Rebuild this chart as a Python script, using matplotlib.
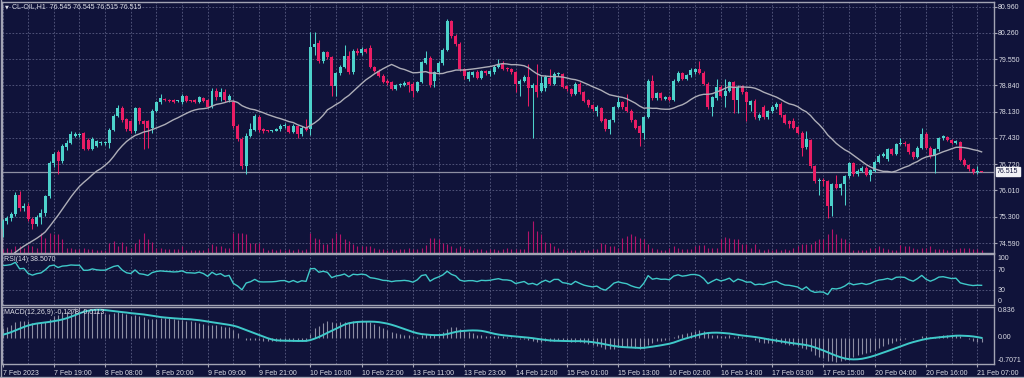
import matplotlib.pyplot as plt
import numpy as np
import pandas as pd
from matplotlib.lines import Line2D

# CL-OIL H1, 7 Feb 06:00 -> 21 Feb 07:00 (230 hourly bars, 12 bars per time label)
opens = [
    74.98, 75.20, 75.26, 75.38, 75.90, 75.53, 75.60, 75.25, 75.12, 75.30, 75.40, 75.85,
    76.75, 77.05, 76.80, 77.18, 77.28, 77.48, 77.50, 77.55, 77.38, 77.14, 77.22, 77.28,
    77.28, 77.28, 77.63, 78.02, 78.24, 77.93, 77.89, 77.60, 78.23, 77.87, 77.87, 77.70,
    78.16, 78.38, 78.47, 78.44, 78.45, 78.42, 78.38, 78.56, 78.44, 78.45, 78.38, 78.50,
    78.45, 78.25, 78.70, 78.52, 78.65, 78.45, 78.40, 77.75, 77.39, 76.67, 77.48, 77.63,
    78.00, 77.66, 77.62, 77.61, 77.62, 77.66, 77.75, 77.75, 77.58, 77.75, 77.52, 77.70,
    77.66, 79.87, 79.98, 79.49, 79.74, 79.60, 78.83, 79.17, 79.33, 79.62, 79.20, 79.77,
    79.70, 79.83, 79.86, 79.33, 79.24, 79.10, 78.97, 78.93, 78.75, 78.84, 78.84, 78.93,
    78.88, 78.70, 78.93, 79.45, 79.59, 78.95, 79.20, 79.45, 79.80, 80.58, 80.18, 79.96,
    79.28, 79.00, 79.12, 79.21, 79.05, 79.22, 79.15, 79.20, 79.33, 79.42, 79.30, 79.29,
    79.20, 78.88, 78.97, 79.07, 78.77, 78.84, 78.70, 78.77, 79.05, 78.88, 79.15, 79.15,
    78.83, 78.74, 78.61, 78.88, 78.65, 78.45, 78.30, 78.14, 78.23, 77.93, 77.66, 77.90,
    78.25, 78.38, 78.25, 78.16, 77.90, 77.75, 77.57, 77.99, 78.95, 78.50, 78.63, 78.48,
    78.52, 78.45, 78.97, 79.17, 79.02, 79.11, 79.20, 79.27, 79.18, 78.88, 78.25, 78.50,
    78.80, 78.56, 78.70, 78.92, 78.45, 78.83, 78.65, 78.30, 78.43, 77.97, 78.26, 77.98,
    78.14, 78.25, 78.34, 78.05, 77.88, 77.87, 77.72, 77.57, 77.18, 77.37, 76.67, 76.26,
    76.30, 76.26, 75.58, 76.18, 76.08, 76.18, 76.39, 76.74, 76.45, 76.53, 76.62, 76.44,
    76.53, 76.78, 76.94, 76.85, 77.12, 77.00, 77.27, 77.30, 77.27, 77.05, 76.91, 77.16,
    77.54, 77.16, 76.93, 77.12, 77.42, 77.46, 77.36, 77.29, 77.31, 76.84, 76.70, 76.58,
    76.50, 76.545,
]
highs = [
    75.25, 75.32, 75.44, 75.96, 76.00, 75.66, 75.66, 75.30, 75.36, 75.50, 75.90, 76.80,
    77.05, 77.10, 77.25, 77.36, 77.60, 77.58, 77.57, 77.58, 77.42, 77.44, 77.36, 77.34,
    77.35, 77.68, 78.06, 78.30, 78.28, 77.96, 77.92, 78.26, 78.26, 77.90, 77.90, 78.20,
    78.42, 78.60, 78.50, 78.48, 78.48, 78.46, 78.60, 78.58, 78.46, 78.48, 78.56, 78.52,
    78.48, 78.78, 78.76, 78.78, 78.75, 78.60, 78.45, 77.80, 77.45, 77.55, 77.84, 78.06,
    78.04, 77.68, 77.65, 77.65, 77.70, 77.80, 77.84, 77.78, 77.80, 77.78, 77.74, 77.93,
    80.28, 80.28, 80.05, 79.78, 79.78, 79.64, 79.20, 79.38, 79.92, 79.78, 79.82, 79.85,
    79.87, 79.86, 79.93, 79.36, 79.28, 79.14, 79.00, 78.96, 78.88, 78.90, 78.96, 78.96,
    78.92, 78.97, 79.50, 79.78, 79.62, 79.24, 79.50, 79.86, 80.62, 80.60, 80.22, 80.00,
    79.32, 79.22, 79.24, 79.26, 79.26, 79.26, 79.26, 79.38, 79.56, 79.50, 79.34, 79.32,
    79.24, 79.02, 79.12, 79.42, 78.90, 79.42, 79.10, 79.12, 79.29, 79.20, 79.20, 79.18,
    78.86, 78.78, 78.92, 78.92, 78.68, 78.48, 78.34, 78.30, 78.26, 77.96, 77.94, 78.28,
    78.52, 78.42, 78.61, 78.20, 77.94, 77.78, 78.02, 79.02, 79.12, 78.67, 78.66, 78.56,
    78.55, 79.00, 79.22, 79.20, 79.15, 79.30, 79.30, 79.49, 79.22, 78.92, 78.56, 79.02,
    78.84, 79.02, 78.96, 78.96, 78.86, 78.86, 78.68, 78.45, 78.47, 78.10, 78.30, 78.18,
    78.30, 78.38, 78.38, 78.08, 77.92, 77.96, 77.76, 77.60, 77.60, 77.40, 76.70, 76.34,
    76.34, 76.30, 76.22, 76.44, 76.22, 76.42, 76.78, 76.78, 76.58, 76.66, 76.66, 76.60,
    76.82, 76.98, 77.04, 77.16, 77.16, 77.30, 77.41, 77.34, 77.30, 77.08, 77.20, 77.70,
    77.58, 77.20, 77.16, 77.46, 77.50, 77.49, 77.39, 77.37, 77.34, 76.88, 76.72, 76.62,
    76.67, 76.545,
]
lows = [
    74.75, 75.12, 75.20, 75.33, 75.45, 75.45, 75.20, 74.98, 75.05, 75.10, 75.33, 75.80,
    76.65, 76.45, 76.75, 77.10, 77.25, 77.44, 77.45, 77.10, 77.10, 77.10, 77.18, 77.24,
    77.24, 77.15, 77.60, 78.00, 77.86, 77.60, 77.55, 77.55, 77.80, 77.12, 77.16, 77.55,
    78.12, 78.35, 78.42, 78.40, 78.36, 78.40, 78.34, 78.40, 78.40, 78.37, 78.36, 78.40,
    78.22, 78.22, 78.45, 78.42, 78.40, 78.40, 77.70, 77.35, 76.60, 76.45, 77.45, 77.60,
    77.58, 77.55, 77.58, 77.58, 77.60, 77.62, 77.70, 77.55, 77.55, 77.43, 77.48, 77.60,
    77.50, 79.66, 79.45, 79.45, 79.55, 78.56, 78.56, 79.12, 79.30, 79.16, 79.16, 79.65,
    79.65, 79.70, 79.30, 79.20, 79.06, 78.90, 78.86, 78.72, 78.72, 78.80, 78.82, 78.65,
    78.52, 78.66, 78.90, 79.42, 78.80, 78.80, 79.15, 79.40, 79.76, 80.12, 79.90, 79.24,
    79.00, 78.96, 79.08, 79.00, 79.00, 79.12, 79.10, 79.15, 79.30, 79.26, 79.22, 79.15,
    78.65, 78.56, 78.92, 78.29, 77.43, 78.52, 78.65, 78.70, 78.84, 78.84, 79.10, 78.78,
    78.70, 78.56, 78.58, 78.60, 78.40, 78.26, 78.15, 78.02, 77.85, 77.62, 77.52, 77.86,
    78.22, 78.20, 78.12, 77.86, 77.66, 77.21, 77.39, 77.95, 78.46, 78.46, 78.46, 78.44,
    78.41, 78.42, 78.94, 78.98, 78.98, 79.08, 79.16, 79.15, 78.84, 78.20, 78.02, 78.46,
    78.52, 78.25, 78.66, 78.11, 78.11, 78.60, 77.89, 78.16, 77.94, 77.90, 77.94, 77.94,
    78.10, 78.20, 78.00, 77.80, 77.70, 77.66, 77.53, 76.93, 77.14, 76.62, 76.20, 75.90,
    76.12, 75.28, 75.31, 76.04, 75.90, 75.62, 76.35, 76.40, 76.40, 76.50, 76.40, 76.26,
    76.50, 76.75, 76.90, 76.80, 76.96, 76.96, 77.24, 77.22, 77.00, 76.86, 76.88, 77.12,
    77.12, 76.88, 76.48, 77.08, 77.38, 77.34, 77.25, 77.25, 76.80, 76.66, 76.54, 76.46,
    76.46, 76.515,
]
closes = [
    75.20, 75.26, 75.38, 75.90, 75.53, 75.60, 75.25, 75.12, 75.30, 75.40, 75.85, 76.75,
    77.00, 76.80, 77.20, 77.30, 77.54, 77.52, 77.53, 77.13, 77.14, 77.40, 77.33, 77.30,
    77.31, 77.64, 78.02, 78.24, 77.90, 77.67, 77.60, 78.23, 77.87, 77.81, 77.69, 78.16,
    78.38, 78.49, 78.45, 78.43, 78.40, 78.43, 78.56, 78.43, 78.42, 78.40, 78.52, 78.43,
    78.25, 78.70, 78.52, 78.65, 78.45, 78.55, 77.75, 77.39, 76.67, 77.48, 77.66, 78.02,
    77.63, 77.60, 77.61, 77.62, 77.66, 77.75, 77.76, 77.58, 77.75, 77.54, 77.70, 77.63,
    79.87, 79.96, 79.49, 79.74, 79.60, 78.83, 79.17, 79.33, 79.62, 79.20, 79.77, 79.70,
    79.83, 79.74, 79.33, 79.24, 79.10, 78.93, 78.90, 78.75, 78.84, 78.86, 78.90, 78.84,
    78.70, 78.93, 79.47, 79.59, 78.84, 79.20, 79.45, 79.80, 80.58, 80.18, 79.96, 79.28,
    79.10, 79.19, 79.19, 79.05, 79.22, 79.18, 79.22, 79.33, 79.42, 79.29, 79.28, 79.20,
    78.88, 78.97, 79.07, 78.77, 78.84, 78.65, 78.90, 79.08, 78.88, 79.15, 79.15, 78.81,
    78.74, 78.60, 78.88, 78.65, 78.43, 78.30, 78.20, 78.26, 77.89, 77.66, 77.90, 78.25,
    78.38, 78.25, 78.16, 77.90, 77.70, 77.57, 77.99, 78.97, 78.50, 78.63, 78.50, 78.52,
    78.45, 78.97, 79.17, 79.02, 79.11, 79.26, 79.27, 79.18, 78.88, 78.25, 78.52, 78.79,
    78.56, 78.70, 78.92, 78.45, 78.81, 78.65, 78.38, 78.41, 77.98, 78.05, 77.98, 78.14,
    78.25, 78.34, 78.05, 77.84, 77.81, 77.70, 77.57, 77.16, 77.39, 76.67, 76.26, 76.30,
    76.26, 75.58, 76.18, 76.08, 76.18, 76.39, 76.75, 76.45, 76.53, 76.62, 76.44, 76.55,
    76.78, 76.94, 77.00, 77.12, 77.00, 77.27, 77.30, 77.27, 77.05, 76.91, 77.16, 77.54,
    77.16, 76.93, 77.12, 77.42, 77.47, 77.38, 77.29, 77.33, 76.84, 76.70, 76.58, 76.50,
    76.53, 76.515,
]
# tick volume
volumes = [
    300, 400, 300, 600, 600, 400, 700, 600, 400, 1900, 1400, 1900,
    1800, 1800, 1300, 400, 400, 300, 300, 400, 300, 300, 200, 200,
    200, 900, 1100, 600, 1000, 600, 400, 900, 1300, 1900, 1300, 1000,
    400, 400, 300, 300, 300, 300, 600, 200, 200, 200, 200, 200,
    400, 800, 600, 600, 400, 400, 1900, 1900, 1900, 1800, 900, 900,
    900, 400, 200, 300, 200, 300, 200, 300, 200, 300, 200, 300,
    1900, 1400, 1300, 800, 800, 1400, 1900, 1800, 1300, 1100, 800, 600,
    600, 600, 600, 400, 300, 300, 200, 300, 200, 300, 300, 400,
    300, 300, 400, 700, 1400, 1400, 1300, 900, 800, 600, 400, 600,
    400, 300, 200, 300, 300, 200, 300, 300, 200, 300, 400, 300,
    300, 300, 300, 2100, 3100, 2100, 1800, 1000, 900, 600, 400, 300,
    200, 200, 200, 200, 200, 200, 300, 300, 900, 800, 600, 600,
    400, 1400, 1600, 1800, 1600, 1400, 1300, 800, 400, 300, 200, 200,
    400, 600, 400, 300, 300, 300, 600, 700, 700, 400, 400, 400,
    1300, 1500, 1400, 1300, 1300, 800, 800, 400, 800, 300, 200, 300,
    200, 300, 200, 300, 200, 400, 600, 800, 800, 800, 1100, 1300,
    1300, 1800, 2300, 1800, 1400, 1300, 900, 200, 200, 200, 200, 400,
    400, 600, 400, 300, 200, 200, 700, 600, 600, 400, 300, 400,
    400, 600, 300, 300, 300, 200, 200, 300, 400, 400, 400, 300,
    300, 200,
]
# closes of the 19 hours before the window, only to seed the indicators
prior_closes = [73.90, 73.75, 73.95, 73.80, 74.00, 73.85, 73.70, 73.90, 73.80, 74.00,
                73.85, 73.95, 73.80, 73.90, 74.05, 74.20, 74.55, 74.80, 74.98]

time_labels = ['7 Feb 2023', '7 Feb 19:00', '8 Feb 08:00', '8 Feb 20:00', '9 Feb 09:00',
               '9 Feb 21:00', '10 Feb 10:00', '10 Feb 22:00', '13 Feb 11:00', '13 Feb 23:00',
               '14 Feb 12:00', '15 Feb 01:00', '15 Feb 13:00', '16 Feb 02:00', '16 Feb 14:00',
               '17 Feb 03:00', '17 Feb 15:00', '20 Feb 04:00', '20 Feb 16:00', '21 Feb 07:00']
price_ticks = [80.960, 80.260, 79.550, 78.840, 78.130, 77.430, 76.720, 76.010, 75.300, 74.590]
bid = 76.515

BG = '#10133a'
FRAME = '#a3a4b4'
GRID = '#595d82'
TXT = '#dcdde6'
BULL = '#4dd2cb'
BEAR = '#ea1d64'
VOL = '#b3146a'
FS = 5.0
FONT = ['Liberation Sans', 'DejaVu Sans']
plt.rcParams['font.family'] = FONT

o = np.array(opens)
h = np.array(highs)
l = np.array(lows)
c = np.array(closes)
n = len(c)
x = np.arange(n)

allc = pd.Series(prior_closes + closes)
k = len(prior_closes)
ma = allc.rolling(20).mean().values[k:]
ema12 = allc.ewm(span=12, adjust=False).mean()
ema26 = allc.ewm(span=26, adjust=False).mean()
macd = ema12 - ema26
signal = macd.rolling(9, min_periods=1).mean()
macd = macd.values[k:]
signal = signal.values[k:]
delta = allc.diff().fillna(0)
gain = delta.clip(lower=0).ewm(alpha=1 / 14, adjust=True).mean()
loss = (-delta.clip(upper=0)).ewm(alpha=1 / 14, adjust=True).mean()
rsi = (100 - 100 / (1 + gain / loss)).values[k:]

W, H = 1024, 378
fig = plt.figure(figsize=(W / 100, H / 100), dpi=100)
fig.patch.set_facecolor(BG)


def panel(y0, y1, x0=2, x1=994):
    ax = fig.add_axes([x0 / W, 1 - y1 / H, (x1 - x0) / W, (y1 - y0) / H])
    ax.set_facecolor(BG)
    for s in ax.spines.values():
        s.set_color(FRAME)
        s.set_linewidth(1)
    ax.set_xlim(-0.117, 231.9)
    ax.set_xticks(np.arange(0, n, 12))
    ax.set_xticks(np.arange(6, n, 12), minor=True)
    ax.grid(True, which='both', axis='x', color=GRID, ls=(0, (2, 2)), lw=0.6)
    ax.tick_params(axis='x', which='both', length=0, labelbottom=False)
    ax.tick_params(axis='y', which='both', length=0, labelleft=False)
    ax.set_axisbelow(True)
    return ax


# main price window
ax = panel(2, 252.5)
ax.set_ylim(74.339, 81.087)
ax.set_yticks(price_ticks)
ax.grid(True, axis='y', color=GRID, ls=(0, (2, 2)), lw=0.6)
ax.yaxis.tick_right()
ax.set_yticklabels([f'{v:.3f}' for v in price_ticks])
ax.tick_params(axis='y', length=2, width=0.8, color=FRAME, pad=1,
               labelsize=FS, labelcolor=TXT, labelright=True)

ax.vlines(x, 0, np.array(volumes) / 25000, transform=ax.get_xaxis_transform(),
          colors=VOL, lw=0.8, zorder=1)
ax.axhline(bid, color='#8e8fa3', lw=0.9, zorder=2)

cols = np.where(c >= o, BULL, BEAR)
ax.vlines(x, l, h, colors=cols, lw=0.75, zorder=3)
body_low = np.minimum(o, c)
body_h = np.maximum(np.abs(c - o), 0.025)
ax.bar(x, body_h, bottom=body_low, width=0.7, color=cols, linewidth=0, zorder=4)
ax.plot(x, ma, color='#aeaeb8', lw=1.0, zorder=5)

ax.text(1.003, bid, f'{bid:.3f}', transform=ax.get_yaxis_transform(), ha='left',
        va='center', fontsize=FS, color=BG,
        bbox=dict(boxstyle='square,pad=0.18', fc='#f2f2f6', ec='#f2f2f6'))

fig.text(4.5 / W, 1 - 6.8 / H, '\u25bc', fontsize=3.6, color=TXT, va='center',
         family=['DejaVu Sans'])
fig.text(12.5 / W, 1 - 6.8 / H, 'CL-OIL,H1  76.545 76.545 76.515 76.515',
         fontsize=FS, color=TXT, va='center')

# RSI window
ax2 = panel(254, 305)
ax2.set_ylim(0, 102)
for lvl in (70, 30):
    ax2.axhline(lvl, color=GRID, ls=(0, (2, 2)), lw=0.6)
ax2.plot(x, rsi, color='#3fc9c9', lw=1.0)
yt = ax2.get_yaxis_transform()
ax2.text(1.004, 100, '100', transform=yt, fontsize=FS, color=TXT, va='top')
ax2.text(1.004, 70, '70', transform=yt, fontsize=FS, color=TXT, va='center')
ax2.text(1.004, 30, '30', transform=yt, fontsize=FS, color=TXT, va='center')
ax2.text(1.004, 0, '0', transform=yt, fontsize=FS, color=TXT, va='bottom')
fig.text(4.5 / W, 1 - 259.5 / H, 'RSI(14) 38.5070', fontsize=FS, color=TXT, va='center')

# MACD window
ax3 = panel(306.5, 364)
ax3.set_ylim(-0.7071, 0.836)
ax3.vlines(x, 0, macd, colors='#8c8da3', lw=0.8)
ax3.plot(x, signal, color='#3fc9c9', lw=1.4)
yt = ax3.get_yaxis_transform()
ax3.text(1.004, 0.836, '0.836', transform=yt, fontsize=FS, color=TXT, va='top')
ax3.text(1.004, 0.0, '0.00', transform=yt, fontsize=FS, color=TXT, va='center')
ax3.text(1.004, -0.7071, '-0.7071', transform=yt, fontsize=FS, color=TXT, va='bottom')
fig.text(4.5 / W, 1 - 312.5 / H, 'MACD(12,26,9) -0.1278 -0.0113', fontsize=FS,
         color=TXT, va='center')

ax3.set_xticklabels(time_labels, ha='left')
ax3.tick_params(axis='x', which='major', length=2.5, width=0.8, color=FRAME,
                labelbottom=True, labelsize=FS, labelcolor=TXT, pad=1.5)

fig.add_artist(Line2D([0, 1], [1 - 377 / H] * 2, color=FRAME, lw=1))
fig.add_artist(Line2D([0.5 / W] * 2, [0, 1], color=FRAME, lw=1))

fig.savefig('out.png', dpi=100, facecolor=BG)
